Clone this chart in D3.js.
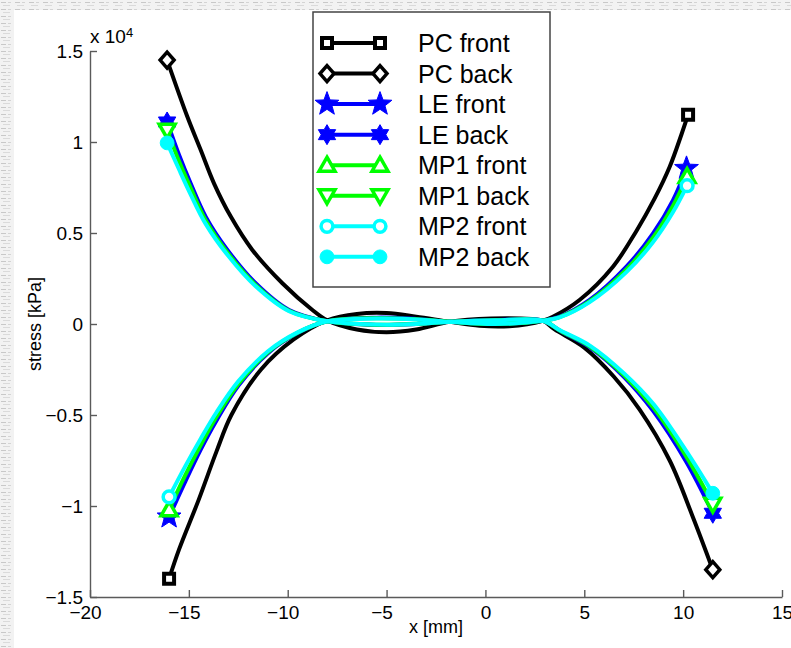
<!DOCTYPE html>
<html>
<head>
<meta charset="utf-8">
<script src="https://cdn.jsdelivr.net/npm/d3@7"></script>
<style>
  html, body { margin: 0; padding: 0; background: #fff; }
  svg { display: block; font-family: "Liberation Sans", Arial, sans-serif; }
</style>
</head>
<body>
<div id="container"></div>
<script>
"use strict";

// x ticks [mm], y ticks [x 10^4 kPa]
const xTicks = [-20, -15, -10, -5, 0, 5, 10, 15];
const yTicks = [-1.5, -1, -0.5, 0, 0.5, 1, 1.5];

// series: [x in mm, stress in 10^4 kPa]
const pcFront = [[-16.0,-1.40],[-15.5,-1.24],[-14.5,-0.965],[-13.6,-0.70],[-12.85,-0.50],[-11.35,-0.25],[-9.7,-0.085],[-8.0,0.02],[-6.5,0.055],[-5.0,0.06],[-3.5,0.04],[-1.8,0.012],[-0.3,-0.01],[1.2,-0.012],[2.9,0.018],[3.41,0.04],[4.76,0.132],[6.45,0.315],[7.63,0.51],[8.56,0.69],[9.32,0.864],[9.91,1.04],[10.25,1.15]];
const pcBack = [[-16.1,1.45],[-15.08,1.14],[-14.4,0.956],[-13.73,0.773],[-12.88,0.59],[-11.79,0.407],[-10.27,0.224],[-8.75,0.077],[-8.0,0.02],[-6.5,-0.03],[-5.0,-0.045],[-3.5,-0.03],[-1.8,0.012],[0.3,0.03],[1.8,0.03],[2.9,0.018],[3.5,-0.03],[5.0,-0.13],[6.5,-0.29],[7.8,-0.47],[9.32,-0.75],[10.49,-1.06],[11.5,-1.35]];
const leFront = [[-16.0,-1.06],[-15.2,-0.87],[-14.4,-0.69],[-13.6,-0.53],[-12.5,-0.34],[-11.0,-0.16],[-9.5,-0.05],[-8.0,0.015],[-5.5,0.035],[-3.5,0.028],[-1.8,0.012],[0.5,0.0],[2.9,0.018],[3.75,0.04],[5.27,0.132],[7.13,0.315],[8.48,0.498],[9.49,0.681],[10.17,0.855]];
const leBack = [[-16.1,1.11],[-15.5,0.93],[-14.9,0.77],[-14.15,0.59],[-13.05,0.407],[-11.62,0.224],[-9.93,0.077],[-8.0,0.015],[-5.5,-0.005],[-3.5,0.0],[-1.8,0.012],[0.5,0.022],[2.9,0.018],[3.8,-0.04],[5.3,-0.13],[7.0,-0.29],[8.5,-0.48],[10.17,-0.76],[11.5,-1.04]];
const mp1Front = [[-16.0,-1.02],[-15.2,-0.835],[-14.4,-0.665],[-13.6,-0.51],[-12.5,-0.33],[-11.0,-0.155],[-9.5,-0.048],[-8.0,0.015],[-5.5,0.032],[-3.5,0.026],[-1.8,0.012],[0.5,0.0],[2.9,0.018],[3.75,0.038],[5.27,0.125],[7.13,0.30],[8.48,0.475],[9.49,0.65],[10.2,0.81]];
const mp1Back = [[-16.1,1.065],[-15.5,0.895],[-14.9,0.745],[-14.15,0.57],[-13.05,0.393],[-11.62,0.215],[-9.93,0.073],[-8.0,0.015],[-5.5,-0.004],[-3.5,0.0],[-1.8,0.012],[0.5,0.021],[2.9,0.018],[3.8,-0.038],[5.3,-0.125],[7.0,-0.28],[8.5,-0.46],[10.17,-0.73],[11.5,-0.99]];
const mp2Front = [[-16.0,-0.95],[-15.2,-0.785],[-14.4,-0.63],[-13.6,-0.485],[-12.5,-0.315],[-11.0,-0.15],[-9.5,-0.046],[-8.0,0.015],[-5.5,0.03],[-3.5,0.025],[-1.8,0.012],[0.5,0.0],[2.9,0.018],[3.75,0.036],[5.27,0.12],[7.13,0.285],[8.48,0.45],[9.49,0.615],[10.2,0.76]];
const mp2Back = [[-16.1,0.995],[-15.5,0.85],[-14.9,0.71],[-14.15,0.55],[-13.05,0.38],[-11.62,0.207],[-9.93,0.07],[-8.0,0.015],[-5.5,-0.003],[-3.5,0.0],[-1.8,0.012],[0.5,0.02],[2.9,0.018],[3.8,-0.036],[5.3,-0.12],[7.0,-0.27],[8.5,-0.44],[10.17,-0.70],[11.5,-0.93]];

const seriesNames = ["PC front", "PC back", "LE front", "LE back", "MP1 front", "MP1 back", "MP2 front", "MP2 back"];
const seriesData = [pcFront, pcBack, leFront, leBack, mp1Front, mp1Back, mp2Front, mp2Back];
const seriesColors = ["#000000", "#000000", "#0000ff", "#0000ff", "#00ff00", "#00ff00", "#00ffff", "#00ffff"];
const seriesMarkers = ["square", "diamond", "pentagram", "hexagram", "triUp", "triDown", "circle", "dot"];

// marker shapes (path strings centred on 0,0)
function starPath(points, rOut, rIn, rot) {
  var p = [];
  for (var i = 0; i < points * 2; i++) {
    var r = i % 2 === 0 ? rOut : rIn;
    var a = rot + (Math.PI * i) / points;
    p.push([r * Math.sin(a), -r * Math.cos(a)]);
  }
  return "M" + p.map(function (d) { return d[0].toFixed(2) + "," + d[1].toFixed(2); }).join("L") + "Z";
}
const markerStyle = {
  square:    { d: "M-5,-5H5V5H-5Z", fill: "#fff", sw: 4 },
  diamond:   { d: "M0,-8L7,0L0,8L-7,0Z", fill: "#fff", sw: 3.5 },
  pentagram: { d: starPath(5, 12.5, 5.2, 0), fill: null, sw: 1 },
  hexagram:  { d: starPath(6, 10, 5.8, 0), fill: null, sw: 1 },
  triUp:     { d: "M0,-8L8,6L-8,6Z", fill: "#fff", sw: 3.5 },
  triDown:   { d: "M0,8L8,-6L-8,-6Z", fill: "#fff", sw: 3.5 },
  circle:    { d: d3.symbol(d3.symbolCircle, 110)(), fill: "#fff", sw: 3.5 },
  dot:       { d: d3.symbol(d3.symbolCircle, 150)(), fill: null, sw: 1 }
};

const W = 791, H = 648;
const svg = d3.select("#container").append("svg").attr("width", W).attr("height", H);

// grey textured page edge behind the white figure
const defs = svg.append("defs");
const pat = defs.append("pattern").attr("id", "tex").attr("patternUnits", "userSpaceOnUse")
  .attr("width", 14).attr("height", 7);
pat.append("rect").attr("width", 14).attr("height", 7).attr("fill", "#f2f2f2");
pat.append("rect").attr("x", 1).attr("y", 2).attr("width", 5).attr("height", 1).attr("fill", "#c8c8c8");
pat.append("rect").attr("x", 8).attr("y", 2).attr("width", 3).attr("height", 1).attr("fill", "#d4d4d4");
pat.append("rect").attr("x", 3).attr("y", 5).attr("width", 7).attr("height", 1).attr("fill", "#dadada");
svg.append("rect").attr("width", W).attr("height", H).attr("fill", "url(#tex)");
svg.append("rect").attr("x", 14).attr("y", 10).attr("width", W - 14).attr("height", H - 10).attr("fill", "#fff");

// scales
const x = d3.scaleLinear().domain([-20, 15]).range([90, 782]);
const y = d3.scaleLinear().domain([-1.5, 1.5]).range([597, 51]);

const fmt = function (v) { return v < 0 ? "\u2212" + d3.format("")(-v) : d3.format("")(v); };

// axes (ticks inward, MATLAB style)
const gx = svg.append("g").attr("transform", "translate(0,597)")
  .call(d3.axisBottom(x).tickValues(xTicks).tickSize(-7).tickSizeOuter(0).tickPadding(9).tickFormat(fmt));
const gy = svg.append("g").attr("transform", "translate(90,0)")
  .call(d3.axisLeft(y).tickValues(yTicks).tickSize(-7).tickSizeOuter(0).tickPadding(7).tickFormat(fmt));
[gx, gy].forEach(function (g) {
  g.selectAll("path, line").attr("stroke", "#5a5a5a").attr("stroke-width", 1.4);
  g.selectAll("text").attr("fill", "#000").style("font-size", "19px");
});
gx.selectAll("text").attr("dx", function (d) { return d < 0 ? -5 : 0; });

// exponent label
const expo = svg.append("text").attr("x", 90).attr("y", 43).style("font-size", "19px").attr("fill", "#000");
expo.append("tspan").text("x 10");
expo.append("tspan").attr("dy", -6).style("font-size", "13px").text("4");

// axis titles
svg.append("text").attr("x", 436).attr("y", 633).attr("text-anchor", "middle")
  .style("font-size", "18px").text("x [mm]");
svg.append("text").attr("transform", "translate(41,324) rotate(-90)").attr("text-anchor", "middle")
  .style("font-size", "18px").text("stress [kPa]");

// curves
const line = d3.line()
  .x(function (d) { return x(d[0]); })
  .y(function (d) { return y(d[1]); })
  .curve(d3.curveCatmullRom.alpha(0.5));

function drawMarker(g, kind, color, px, py) {
  var m = markerStyle[kind];
  g.append("path").attr("d", m.d).attr("transform", "translate(" + px + "," + py + ")")
    .attr("fill", m.fill || color).attr("stroke", color).attr("stroke-width", m.sw)
    .attr("stroke-linejoin", "miter");
}

const plot = svg.append("g");
seriesData.forEach(function (data, i) {
  plot.append("path").datum(data).attr("d", line)
    .attr("fill", "none").attr("stroke", seriesColors[i]).attr("stroke-width", 4)
    .attr("stroke-linejoin", "round");
  [data[0], data[data.length - 1]].forEach(function (d) {
    drawMarker(plot, seriesMarkers[i], seriesColors[i], x(d[0]), y(d[1]));
  });
});

// legend
const legend = svg.append("g");
legend.append("rect").attr("x", 313).attr("y", 12).attr("width", 237).attr("height", 275)
  .attr("fill", "#fff").attr("stroke", "#444").attr("stroke-width", 1.5);
seriesNames.forEach(function (name, i) {
  var cy = 43 + i * 30.55;
  legend.append("line").attr("x1", 327).attr("x2", 380).attr("y1", cy).attr("y2", cy)
    .attr("stroke", seriesColors[i]).attr("stroke-width", 4);
  drawMarker(legend, seriesMarkers[i], seriesColors[i], 327, cy);
  drawMarker(legend, seriesMarkers[i], seriesColors[i], 380, cy);
  legend.append("text").attr("x", 418).attr("y", cy + 9).style("font-size", "25px")
    .attr("fill", "#000").text(name);
});
</script>
</body>
</html>
